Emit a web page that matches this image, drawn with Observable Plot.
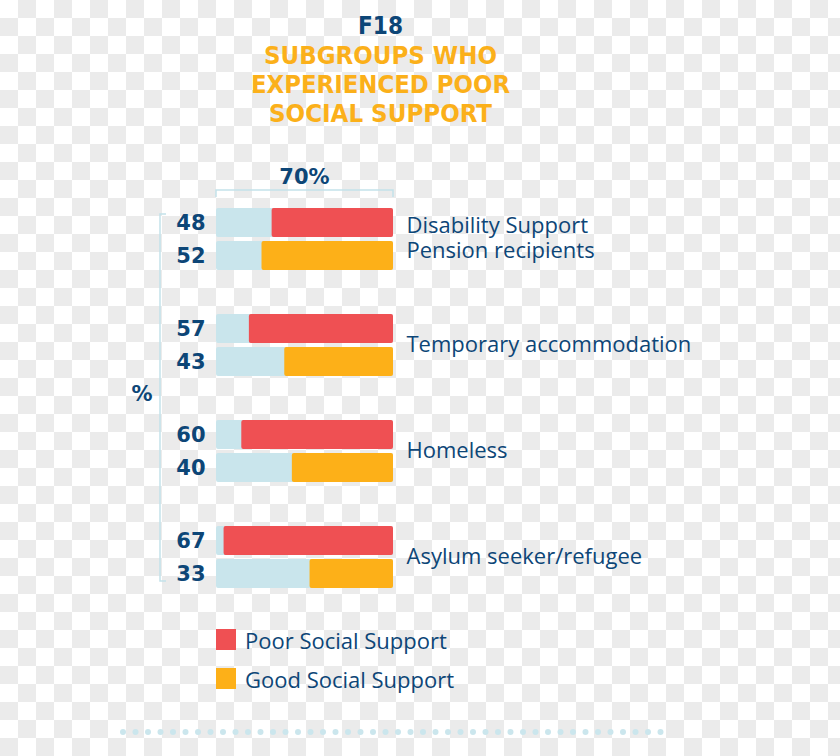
<!DOCTYPE html>
<html>
<head>
<meta charset="utf-8">
<script src="https://cdn.jsdelivr.net/npm/d3@7"></script>
<script src="https://cdn.jsdelivr.net/npm/@observablehq/plot@0.6"></script>
<style>
html,body{margin:0;padding:0;}
body{width:840px;height:756px;position:relative;overflow:hidden;
  background:repeating-conic-gradient(#ebebeb 0 25%, #ffffff 0 50%) 0 0/36px 36px;}
#title,#chart{position:absolute;left:0;top:0;}
#legend{position:absolute;left:216px;top:629px;font-family:"Open Sans",sans-serif;font-size:22px;color:#0d4677;}
.sw-row{display:flex;align-items:center;height:21px;margin-bottom:18px;white-space:nowrap;}
.sw{width:20px;height:21px;margin-right:9px;flex:none;}
</style>
</head>
<body>
<div id="chart"></div>
<div id="title"></div>
<div id="legend"></div>
<script>
// ---- data ----
const figureId = "F18";
const titleLines = ["SUBGROUPS WHO", "EXPERIENCED POOR", "SOCIAL SUPPORT"];
const groups = ["Disability Support\nPension recipients", "Temporary accommodation", "Homeless", "Asylum seeker/refugee"];
const series = ["Poor Social Support", "Good Social Support"];
const poor = [48, 57, 60, 67];
const good = [52, 43, 40, 33];
const scaleMax = 70;
const scaleLabel = "70%";
const unitLabel = "%";
const seriesColors = ["#ef5053", "#fdb018"];

// ---- styles ----
const navy = "#0d4677";
const orange = "#fbb01a";
const paleBlue = "#c9e5ec";
const bracketBlue = "#c3e2ea";

const rows = groups.flatMap((g, i) => [
  {group: g, series: series[0], value: poor[i]},
  {group: g, series: series[1], value: good[i]}
]);

const plot = Plot.plot({
  width: 840, height: 756,
  marginTop: 208, marginBottom: 168, marginLeft: 216, marginRight: 447,
  style: {background: "transparent", overflow: "visible"},
  facet: {marginTop: 0, marginBottom: 0, marginLeft: 0, marginRight: 0},
  x: {domain: [0, scaleMax], reverse: true, axis: null},
  y: {domain: series, paddingInner: 4 / 33, paddingOuter: 0, axis: null},
  fy: {domain: groups, paddingInner: 44 / 106, paddingOuter: 0, axis: null},
  color: {domain: series, range: seriesColors},
  marks: [
    Plot.barX(rows, {fy: "group", y: "series", x1: 0, x2: scaleMax, fill: paleBlue, rx: 2}),
    Plot.barX(rows, {fy: "group", y: "series", x1: 0, x2: "value", fill: "series", rx: 2}),
    Plot.text(rows, {fy: "group", y: "series", x: scaleMax, text: "value", dx: -11, textAnchor: "end",
      fill: navy, fontSize: 21, fontWeight: "bold", fontFamily: "DejaVu Sans"}),
    Plot.text(groups, {fy: d => d, frameAnchor: "right", text: d => d, dx: 13, dy: -2, textAnchor: "start",
      lineHeight: 1.14, fill: navy, fontSize: 22, fontFamily: "Open Sans"})
  ]
});
document.getElementById("chart").appendChild(plot);

// brackets derived from the plot's scales
const sx = plot.scale("x"), sfy = plot.scale("fy");
const xL = sx.apply(scaleMax), xR = sx.apply(0);
const fyTop = sfy.apply(groups[0]);
const fyBot = sfy.apply(groups[groups.length - 1]) + sfy.bandwidth;
const svg = d3.select(plot);
const deco = svg.append("g");
const yTop = fyTop - 18;
deco.append("path")
  .attr("d", `M${xL},${yTop + 7}V${yTop}H${xR}V${yTop + 7}`)
  .attr("fill", "none").attr("stroke", bracketBlue).attr("stroke-width", 1.5);
deco.append("text").attr("x", (xL + xR) / 2).attr("y", yTop - 6)
  .attr("text-anchor", "middle").attr("fill", navy)
  .attr("font-family", "DejaVu Sans").attr("font-weight", "bold").attr("font-size", 21)
  .text(scaleLabel);
const xB = xL - 56;
deco.append("path")
  .attr("d", `M${xB + 6},${fyTop + 6}H${xB}V${fyBot - 7}H${xB + 6}`)
  .attr("fill", "none").attr("stroke", bracketBlue).attr("stroke-width", 1.5);
deco.append("text").attr("x", xB - 18).attr("y", (fyTop + fyBot) / 2 + 3)
  .attr("text-anchor", "middle").attr("fill", navy)
  .attr("font-family", "DejaVu Sans").attr("font-weight", "bold").attr("font-size", 21)
  .text(unitLabel);
// dotted footer rule
deco.append("line").attr("x1", 123).attr("x2", 673).attr("y1", 732).attr("y2", 732)
  .attr("stroke", "#cbe6ed").attr("stroke-width", 6).attr("stroke-linecap", "round")
  .attr("stroke-dasharray", "0 12.5");

// title
const tsvg = d3.select("#title").append("svg").attr("width", 840).attr("height", 140);
const titleSpecs = [
  {text: figureId, y: 34, w: 45, fill: navy},
  {text: titleLines[0], y: 64, w: 233, fill: orange},
  {text: titleLines[1], y: 93, w: 259, fill: orange},
  {text: titleLines[2], y: 122, w: 223, fill: orange}
];
tsvg.selectAll("text").data(titleSpecs).join("text")
  .attr("x", 380.5).attr("y", d => d.y).attr("text-anchor", "middle")
  .attr("font-family", "'DejaVu Sans Condensed','Liberation Sans Narrow','DejaVu Sans',sans-serif")
  .attr("font-weight", "bold").attr("font-size", 25)
  .attr("textLength", d => d.w).attr("lengthAdjust", "spacingAndGlyphs")
  .attr("fill", d => d.fill).text(d => d.text);

// legend
const leg = d3.select("#legend");
const items = leg.selectAll("div").data(series).join("div").attr("class", "sw-row");
items.append("div").attr("class", "sw").style("background", (d, i) => seriesColors[i]);
items.append("span").text(d => d);
</script>
</body>
</html>
